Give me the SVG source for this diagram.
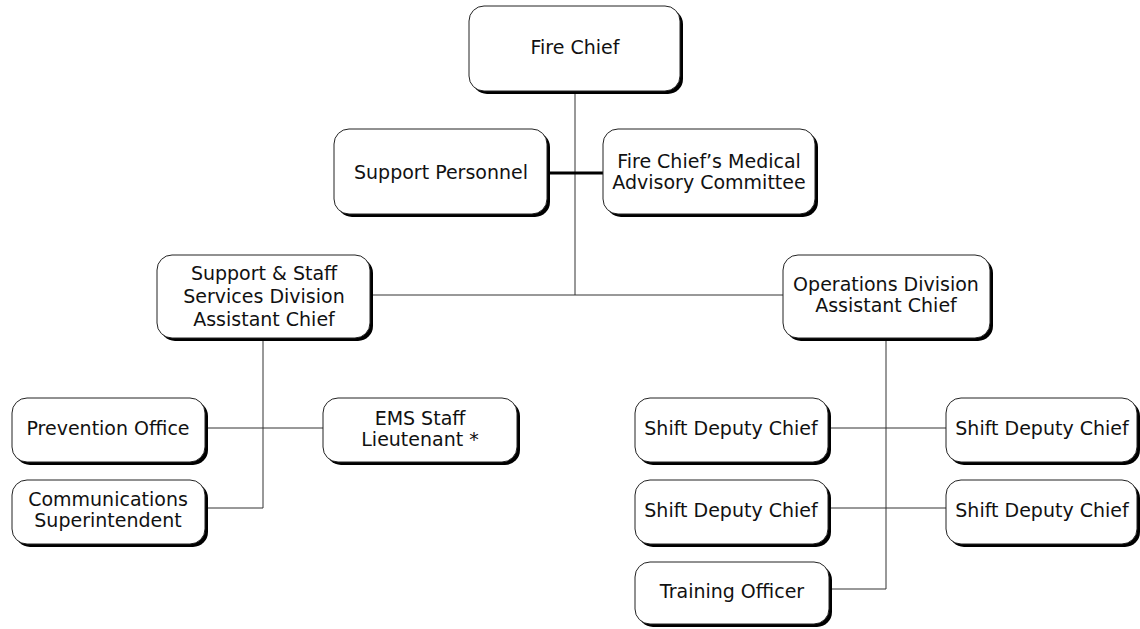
<svg xmlns="http://www.w3.org/2000/svg" width="1140" height="629" viewBox="0 0 1140 629">
<defs>
<style>
.sh{fill:#000}
.bx{fill:#fff;stroke:#222;stroke-width:1}
.t{font-family:"DejaVu Sans",sans-serif;font-size:19px;fill:#111;text-anchor:middle}
.ln{stroke:#333;stroke-width:1;fill:none}
.thick{stroke:#000;stroke-width:3;fill:none}
</style>
</defs>
<rect width="1140" height="629" fill="#fff"/>
<g id="connectors">
<line class="ln" x1="575" y1="91" x2="575" y2="295"/>
<line class="thick" x1="549" y1="173" x2="603" y2="173"/>
<line class="ln" x1="371" y1="295" x2="783" y2="295"/>
<line class="ln" x1="263" y1="340" x2="263" y2="508"/>
<line class="ln" x1="206" y1="428" x2="323" y2="428"/>
<line class="ln" x1="206" y1="508" x2="263" y2="508"/>
<line class="ln" x1="886" y1="340" x2="886" y2="589"/>
<line class="ln" x1="829" y1="428" x2="946" y2="428"/>
<line class="ln" x1="829" y1="508" x2="946" y2="508"/>
<line class="ln" x1="830" y1="589" x2="886" y2="589"/>
</g>
<g id="fire-chief">
<rect class="sh" x="472" y="9" width="211" height="85" rx="15"/>
<rect class="bx" x="469" y="6" width="211" height="85" rx="15"/>
<text class="t" x="575" y="54">Fire Chief</text>
</g>
<g id="support-personnel">
<rect class="sh" x="337" y="132" width="213" height="85" rx="15"/>
<rect class="bx" x="334" y="129" width="213" height="85" rx="15"/>
<text class="t" x="441" y="179">Support Personnel</text>
</g>
<g id="medical-advisory">
<rect class="sh" x="606" y="132" width="212" height="85" rx="15"/>
<rect class="bx" x="603" y="129" width="212" height="85" rx="15"/>
<text class="t" x="709" y="168">Fire Chief’s Medical</text>
<text class="t" x="709" y="189">Advisory Committee</text>
</g>
<g id="support-staff">
<rect class="sh" x="160" y="258" width="213" height="83" rx="15"/>
<rect class="bx" x="157" y="255" width="213" height="83" rx="15"/>
<text class="t" x="264" y="280">Support &amp; Staff</text>
<text class="t" x="264" y="303">Services Division</text>
<text class="t" x="264" y="326">Assistant Chief</text>
</g>
<g id="operations">
<rect class="sh" x="786" y="258" width="207" height="83" rx="15"/>
<rect class="bx" x="783" y="255" width="207" height="83" rx="15"/>
<text class="t" x="886" y="291">Operations Division</text>
<text class="t" x="886" y="312">Assistant Chief</text>
</g>
<g id="prevention-office">
<rect class="sh" x="15" y="401" width="193" height="64" rx="15"/>
<rect class="bx" x="12" y="398" width="193" height="64" rx="15"/>
<text class="t" x="108" y="435">Prevention Office</text>
</g>
<g id="ems-staff">
<rect class="sh" x="326" y="401" width="194" height="64" rx="15"/>
<rect class="bx" x="323" y="398" width="194" height="64" rx="15"/>
<text class="t" x="420" y="425">EMS Staff</text>
<text class="t" x="420" y="446">Lieutenant *</text>
</g>
<g id="communications">
<rect class="sh" x="15" y="483" width="193" height="64" rx="15"/>
<rect class="bx" x="12" y="480" width="193" height="64" rx="15"/>
<text class="t" x="108" y="506">Communications</text>
<text class="t" x="108" y="527">Superintendent</text>
</g>
<g id="shift-1">
<rect class="sh" x="638" y="401" width="193" height="64" rx="15"/>
<rect class="bx" x="635" y="398" width="193" height="64" rx="15"/>
<text class="t" x="731" y="435">Shift Deputy Chief</text>
</g>
<g id="shift-2">
<rect class="sh" x="949" y="401" width="191" height="64" rx="15"/>
<rect class="bx" x="946" y="398" width="191" height="64" rx="15"/>
<text class="t" x="1042" y="435">Shift Deputy Chief</text>
</g>
<g id="shift-3">
<rect class="sh" x="638" y="483" width="193" height="64" rx="15"/>
<rect class="bx" x="635" y="480" width="193" height="64" rx="15"/>
<text class="t" x="731" y="517">Shift Deputy Chief</text>
</g>
<g id="shift-4">
<rect class="sh" x="949" y="483" width="191" height="64" rx="15"/>
<rect class="bx" x="946" y="480" width="191" height="64" rx="15"/>
<text class="t" x="1042" y="517">Shift Deputy Chief</text>
</g>
<g id="training-officer">
<rect class="sh" x="638" y="565" width="194" height="62" rx="15"/>
<rect class="bx" x="635" y="562" width="194" height="62" rx="15"/>
<text class="t" x="732" y="598">Training Officer</text>
</g>
</svg>
